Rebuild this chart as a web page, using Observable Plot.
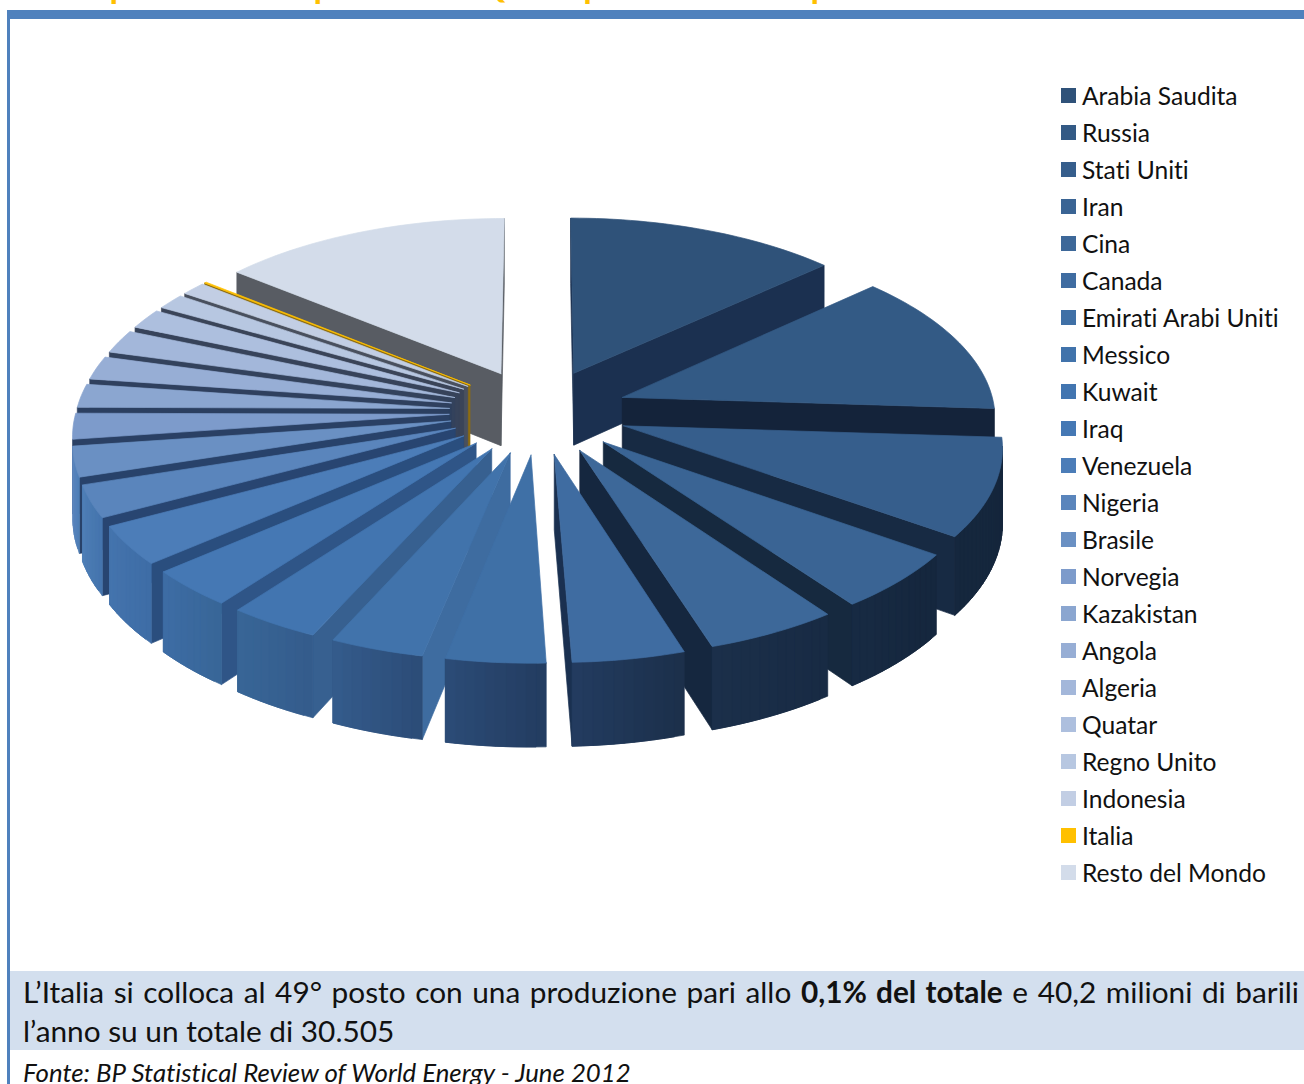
<!DOCTYPE html>
<html lang="it">
<head>
<meta charset="utf-8">
<title>Quota percentuale di produzione</title>
<script src="https://cdn.jsdelivr.net/npm/d3@7"></script>
<script src="https://cdn.jsdelivr.net/npm/@observablehq/plot@0.6"></script>
<style>
  html, body { margin: 0; padding: 0; background: #fff; }
  #page { position: relative; width: 1304px; height: 1084px; overflow: hidden; font-family: Lato, "Open Sans", sans-serif; color: #111; font-variant-ligatures: none; }
  #heading { position: absolute; left: 20px; top: -33px; font-size: 34.7px; line-height: 36px; font-weight: 700; color: #ffc000; white-space: nowrap; }
  #bar { position: absolute; left: 7px; right: 0; top: 10px; height: 9px; background: #4f81bd; }
  #edge { position: absolute; left: 7px; top: 10px; bottom: 0; width: 3px; background: #4f81bd; }
  #chart { position: absolute; left: 10px; top: 19px; }
  #legend { position: absolute; left: 1061px; top: 77px; }
  .row { height: 37px; display: flex; align-items: center; font-size: 24.6px; white-space: nowrap; }
  .key { width: 15px; height: 15px; margin-right: 6px; flex: none; }
  #note { position: absolute; left: 10px; right: 0; top: 971px; height: 79px; background: #d3dfee; font-size: 29.8px; line-height: 39px; }
  #note div { position: absolute; left: 13px; width: 1276px; white-space: nowrap; }
  #note .first { top: 1px; white-space: normal; text-align: justify; text-align-last: justify; }
  #note .second { top: 40px; }
  #source { position: absolute; left: 23px; top: 1056px; font-size: 25.8px; line-height: 32px; font-style: italic; white-space: nowrap; }
</style>
</head>
<body>
<div id="page">
  <div id="heading">Paesi produttori in posizione: Quota percentuale di produzione</div>
  <div id="bar"></div>
  <div id="edge"></div>
  <div id="chart"></div>
  <div id="legend"></div>
  <div id="note">
    <div class="first">L’Italia si colloca al 49° posto con una produzione pari allo <b>0,1% del totale</b> e 40,2 milioni di barili</div>
    <div class="second">l’anno su un totale di 30.505</div>
  </div>
  <div id="source">Fonte: BP Statistical Review of World Energy - June 2012</div>
</div>
<script>
// Oil production by country, share of the world total (%)
const countries = ["Arabia Saudita", "Russia", "Stati Uniti", "Iran", "Cina", "Canada", "Emirati Arabi Uniti",
  "Messico", "Kuwait", "Iraq", "Venezuela", "Nigeria", "Brasile", "Norvegia", "Kazakistan", "Angola", "Algeria",
  "Quatar", "Regno Unito", "Indonesia", "Italia", "Resto del Mondo"];
const shares = [13.2, 12.8, 8.8, 5.2, 5.1, 4.3, 3.8, 3.6, 3.5, 3.4, 3.5, 2.9, 2.7, 2.3, 2.1, 2.1, 2.1, 1.8, 1.4, 1.2, 0.1, 14.1];

// Colour of each slice's upper face
const palette = ["#2f5279", "#335a85", "#365e8c", "#3a6494", "#3d6899", "#3f6ca1", "#3f70a6", "#4173ab",
  "#4275b0", "#4578b4", "#4c7db8", "#5a85bc", "#6a90c3", "#7d9bcb", "#8ba6d0", "#97aed5", "#a3b7da",
  "#adbfde", "#b7c7e1", "#c2cee4", "#ffc000", "#d3dcea"];

// Shading of the walls, by clockwise angle from twelve o'clock
const rimShade = d3.scaleLinear()
  .domain([90, 130, 162, 178, 191, 204, 217, 230, 243, 254, 264, 272, 285])
  .range(["#15263b", "#15273e", "#1b2f4a", "#233c60", "#2b4b76", "#345b8b", "#386697", "#3e6da6", "#4575ae", "#5080b8", "#6288c0", "#7090c5", "#8aa5d0"])
  .clamp(true);
const rightWall = d3.scaleLinear()
  .domain([47, 94, 130, 144, 162, 178])
  .range(["#1b3050", "#14233a", "#172b44", "#16293f", "#15273f", "#1a3050"])
  .clamp(true);
const leftWall = d3.scaleLinear()
  .domain([185, 204, 217, 230, 245, 270, 300, 309])
  .range(["#4272a8", "#376090", "#2f5587", "#2a4e7e", "#27436e", "#2b3f60", "#3a4458", "#585c63"])
  .clamp(true);
const italyWall = "#8f6d10";
const wallColor = (sl, deg) => sl.name === "Italia" ? italyWall : deg > 180 ? leftWall(deg) : rightWall(deg);

// Exploded pie seen in perspective; lengths are in pie radii
const explode = 0.24, tilt = 0.477, depth = 0.197, viewer = 10;
const rad = (deg) => deg * Math.PI / 180;
const project = (X, Y, down = 0) => {
  const s = viewer / (viewer - Y);
  return { x: X * s, y: (tilt * Y + depth * down) * s };
};

const total = d3.sum(shares);
let running = 0;
const slices = countries.map((name, i) => {
  const a0 = running / total * 360;
  running += shares[i];
  const a1 = running / total * 360;
  const mid = rad((a0 + a1) / 2);
  return { name, i, a0, a1, ox: explode * Math.sin(mid), oy: -explode * Math.cos(mid) };
}).sort((a, b) => a.oy - b.oy); // far slices are painted first

const area = (pts) => d3.sum(pts, (p, j) => {
  const q = pts[(j + 1) % pts.length];
  return p.x * q.y - q.x * p.y;
});

const faces = [];
const addFace = (key, color, pts) => {
  [...pts, pts[0]].forEach((p) => faces.push({ face: key, color, x: p.x, y: p.y }));
};

for (const sl of slices) {
  const rim = (deg) => [sl.ox + Math.sin(rad(deg)), sl.oy - Math.cos(rad(deg))];
  const wall = (deg) => {
    const [X, Y] = rim(deg);
    return [project(sl.ox, sl.oy), project(X, Y), project(X, Y, 1), project(sl.ox, sl.oy, 1)];
  };
  const w0 = wall(sl.a0), w1 = wall(sl.a1);
  if (area(w0) < 0) addFace(`${sl.i}-a0`, wallColor(sl, sl.a0), w0);
  if (area(w1) > 0) addFace(`${sl.i}-a1`, wallColor(sl, sl.a1), w1);

  // The curved wall is built from narrow strips, each running under the next so no seam shows
  const steps = Math.max(1, Math.ceil((sl.a1 - sl.a0) / 1.5));
  const arc = d3.range(steps + 1).map((k) => sl.a0 + (sl.a1 - sl.a0) * k / steps);
  d3.pairs(arc).forEach(([u, v], k) => {
    const far = arc[Math.min(k + 2, steps)];
    const [ux, uy] = rim(u), [vx, vy] = rim(far);
    const quad = [project(ux, uy), project(vx, vy), project(vx, vy, 1), project(ux, uy, 1)];
    if (area(quad) < 0) addFace(`${sl.i}-r${k}`, rimShade((u + v) / 2), quad);
  });

  addFace(`${sl.i}-top`, palette[sl.i], [project(sl.ox, sl.oy), ...arc.map((d) => project(...rim(d)))]);
}

// The chart area maps pie radii to pixels around the disc centre
const radiusPx = 373, centreX = 528, centreY = 392, plotW = 1040, plotH = 950;
const chart = Plot.plot({
  width: plotW,
  height: plotH,
  margin: 0,
  x: { axis: null, domain: [-centreX / radiusPx, (plotW - centreX) / radiusPx], range: [0, plotW] },
  y: { axis: null, domain: [-centreY / radiusPx, (plotH - centreY) / radiusPx], range: [0, plotH] },
  color: { type: "identity" },
  marks: [
    Plot.line(faces, { x: "x", y: "y", z: "face", fill: "color", stroke: "color", strokeWidth: 0.7, strokeLinejoin: "round" })
  ]
});
document.getElementById("chart").append(chart);

// Legend, one row per country
const legend = document.getElementById("legend");
countries.forEach((name, i) => {
  const row = document.createElement("div");
  row.className = "row";
  const key = document.createElement("span");
  key.className = "key";
  key.style.background = palette[i];
  row.append(key, document.createTextNode(name));
  legend.append(row);
});
</script>
</body>
</html>
